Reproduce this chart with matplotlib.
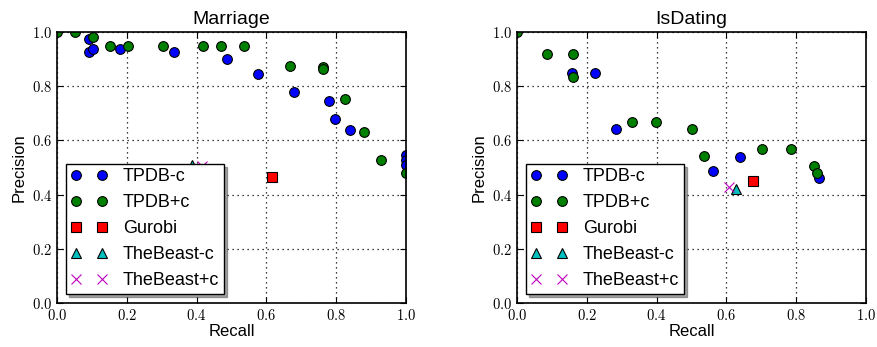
import matplotlib
matplotlib.use("Agg")
import matplotlib.pyplot as plt
from matplotlib.ticker import FormatStrFormatter

plt.rcParams['font.family'] = ['Liberation Sans', 'DejaVu Sans']
plt.rcParams['mathtext.fontset'] = 'cm'

# Marriage: (recall, precision) pairs per system
mar_tpdb_nc_r = [0.093, 0.093, 0.104, 0.181, 0.335, 0.487, 0.576, 0.679, 0.778, 0.797, 0.838, 1.0, 1.0, 1.0]
mar_tpdb_nc_p = [0.973, 0.927, 0.936, 0.936, 0.925, 0.899, 0.846, 0.779, 0.744, 0.679, 0.637, 0.546, 0.528, 0.509]
mar_tpdb_c_r = [0.0, 0.052, 0.102, 0.152, 0.203, 0.303, 0.419, 0.469, 0.537, 0.668, 0.763, 0.763, 0.825, 0.880, 0.928, 1.0]
mar_tpdb_c_p = [1.0, 1.0, 0.980, 0.949, 0.949, 0.948, 0.947, 0.947, 0.947, 0.875, 0.872, 0.863, 0.752, 0.630, 0.527, 0.479]
mar_gurobi_r = [0.616]
mar_gurobi_p = [0.464]
mar_beast_nc_r = [0.386]
mar_beast_nc_p = [0.508]
mar_beast_c_r = [0.416]
mar_beast_c_p = [0.505]

# IsDating
dat_tpdb_nc_r = [0.157, 0.223, 0.283, 0.561, 0.638, 0.866]
dat_tpdb_nc_p = [0.848, 0.848, 0.642, 0.487, 0.540, 0.460]
dat_tpdb_c_r = [0.0, 0.087, 0.160, 0.160, 0.330, 0.397, 0.502, 0.536, 0.701, 0.786, 0.852, 0.860]
dat_tpdb_c_p = [1.0, 0.919, 0.919, 0.833, 0.667, 0.667, 0.641, 0.544, 0.567, 0.567, 0.507, 0.481]
dat_gurobi_r = [0.675]
dat_gurobi_p = [0.451]
dat_beast_nc_r = [0.628]
dat_beast_nc_p = [0.420]
dat_beast_c_r = [0.607]
dat_beast_c_p = [0.427]

labels = ['TPDB-c', 'TPDB+c', 'Gurobi', 'TheBeast-c', 'TheBeast+c']

marriage = [(mar_tpdb_nc_r, mar_tpdb_nc_p), (mar_tpdb_c_r, mar_tpdb_c_p),
            (mar_gurobi_r, mar_gurobi_p), (mar_beast_nc_r, mar_beast_nc_p),
            (mar_beast_c_r, mar_beast_c_p)]
dating = [(dat_tpdb_nc_r, dat_tpdb_nc_p), (dat_tpdb_c_r, dat_tpdb_c_p),
          (dat_gurobi_r, dat_gurobi_p), (dat_beast_nc_r, dat_beast_nc_p),
          (dat_beast_c_r, dat_beast_c_p)]

styles = [dict(marker='o', color='b', ms=7),
          dict(marker='o', color=(0, 0.5, 0), ms=7),
          dict(marker='s', color='r', ms=7),
          dict(marker='^', color=(0, 0.75, 0.75), ms=7),
          dict(marker='x', color=(0.75, 0, 0.75), ms=7)]


def draw(ax, series, title):
    for (r, p), st, lab in zip(series, styles, labels):
        if st['marker'] == 'x':
            ax.plot(r, p, linestyle='none', marker='x', color=st['color'],
                    ms=st['ms'], mew=0.8, label=lab)
        else:
            ax.plot(r, p, linestyle='none', marker=st['marker'], mfc=st['color'],
                    mec='k', mew=0.8, ms=st['ms'], label=lab)
    ax.set_xlim(0, 1)
    ax.set_ylim(0, 1)
    ax.set_xticks([0, 0.2, 0.4, 0.6, 0.8, 1.0])
    ax.set_yticks([0, 0.2, 0.4, 0.6, 0.8, 1.0])
    ax.xaxis.set_major_formatter(FormatStrFormatter(r'$%.1f$'))
    ax.yaxis.set_major_formatter(FormatStrFormatter(r'$%.1f$'))
    ax.tick_params(direction='in', top=True, right=True, length=4, labelsize=10.5)
    ax.grid(True, color='k', linestyle=(0, (1, 3)), linewidth=0.9)
    ax.set_xlabel('Recall', fontsize=12, labelpad=1)
    ax.set_ylabel('Precision', fontsize=12)
    ax.set_title(title, fontsize=14)
    for s in ax.spines.values():
        s.set_linewidth(1.2)
    leg = ax.legend(loc='lower left', numpoints=2, fontsize=13, shadow=True,
                    fancybox=False, framealpha=1, borderaxespad=0.5,
                    borderpad=0.25, handlelength=2.05, handletextpad=0.85,
                    labelspacing=0.5)
    leg.get_frame().set_edgecolor('k')


fig = plt.figure(figsize=(8.77, 3.47), dpi=100)
ax1 = fig.add_axes([0.065, 0.127, 0.398, 0.781])
ax2 = fig.add_axes([0.5895, 0.127, 0.398, 0.781])
draw(ax1, marriage, 'Marriage')
draw(ax2, dating, 'IsDating')

fig.savefig('out.png', dpi=100)
